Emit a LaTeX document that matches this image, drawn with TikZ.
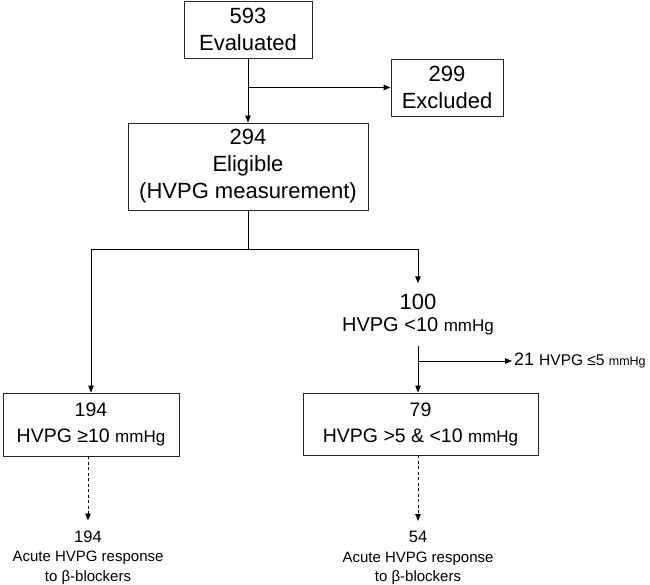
\documentclass[tikz,border=0pt]{standalone}
\usepackage{fontspec}
\setmainfont{Liberation Sans}
\usetikzlibrary{arrows.meta}
\newcommand{\fs}[2]{\fontsize{#1}{#2}\selectfont}

\begin{document}
\begin{tikzpicture}[x=1pt, y=-1pt,
    box/.style={draw=black!85, line width=0.9pt, align=center, inner sep=0pt},
    txt/.style={align=center, inner sep=0pt},
    arr/.style={-{Triangle[length=7pt, width=5.5pt]}, line width=0.9pt},
    dasharr/.style={arr, dash pattern=on 3pt off 2.5pt}]
    \useasboundingbox (0,0) rectangle (650,585);

    % top part
    \node[box, minimum width=128pt, minimum height=57pt, font=\fs{22}{27}] (eval) at (248,29.5) {593\\Evaluated};
    \node[box, minimum width=112pt, minimum height=57pt, font=\fs{22}{26.5}] (excl) at (447,87.5) {299\\Excluded};
    \node[box, minimum width=240pt, minimum height=87pt, font=\fs{22}{27}] (elig) at (248,166.5) {294\\Eligible\\(HVPG measurement)};
    \coordinate (split) at (248,249);

    % groups
    \node[box, minimum width=176pt, minimum height=63pt, font=\fs{19.5}{26}] (hv) at (91,424.5) {194\\HVPG ≥10 {\fs{17}{26}mmHg}};
    \node[txt, minimum height=62pt, font=\fs{20}{22.5}] (lt10) at (418,314.5) {{\fs{22}{22.5}100}\\HVPG <10 {\fs{17}{22.5}mmHg}};
    \node[txt, anchor=west, inner xsep=2pt] (low5) at (512,361) {\fs{18}{20}21 {\fs{15.5}{20}HVPG ≤5 }{\fs{12.5}{20}mmHg}};
    \node[box, minimum width=235pt, minimum height=62pt, font=\fs{19.5}{26}] (gt5) at (420.5,424) {79\\HVPG >5 \& <10 {\fs{17}{26}mmHg}};

    % beta-blocker response
    \node[txt, anchor=north, inner ysep=10pt, font=\fs{15}{19.5}] (resp1) at (88,520.5) {{\fs{16.5}{19.5}194}\\Acute HVPG response\\to β-blockers};
    \node[txt, anchor=north, inner ysep=10pt, font=\fs{15}{19.5}] (resp2) at (418,521) {{\fs{16.5}{19.5}54}\\Acute HVPG response\\to β-blockers};

    \draw[arr] (eval.south) -- (elig.north);
    \draw[arr] (eval.south |- excl.west) -- (excl.west);
    \draw[line width=0.9pt] (elig.south) -- (split);
    \draw[arr] (split) -| (hv.north);
    \draw[arr] (split) -| (lt10.north);
    \draw[arr] (lt10.south) -- (lt10.south |- gt5.north);
    \draw[arr] (lt10.south |- low5.west) -- (low5.west);
    \draw[dasharr] (hv.south -| resp1) -- (resp1.north);
    \draw[dasharr] (gt5.south -| resp2) -- (resp2.north);
\end{tikzpicture}
\end{document}
